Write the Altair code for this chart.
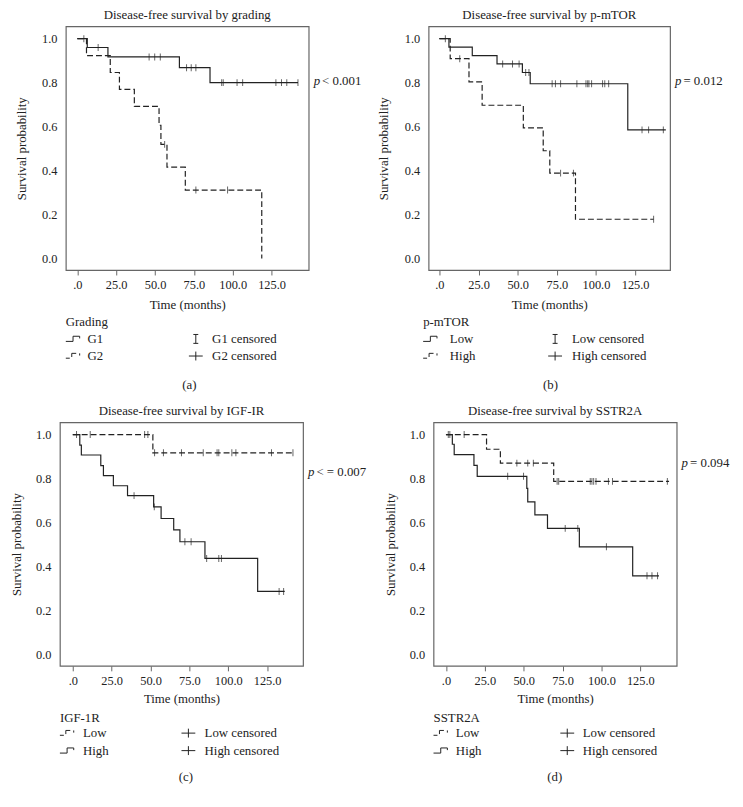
import altair as alt
import pandas as pd

FONT = "Liberation Serif"
INK = "#222222"
FRAME = "#666666"

XTICKS = [0, 25, 50, 75, 100, 125]
YTICKS = [0.0, 0.2, 0.4, 0.6, 0.8, 1.0]
YDOM = [-0.053, 1.056]

# ---------------- data ----------------
# (a) grading
A_G1_T = [0, 6.4, 19.7, 65.7, 85.4]
A_G1_S = [1.0, 0.960, 0.917, 0.868, 0.800]
A_G1_END = 142.0
A_G1_CENS = [4.2, 13.4, 46.2, 49.8, 53.4, 70.3, 73.3, 76.3, 92.9, 93.9,
             102.8, 106.4, 127.8, 131.4, 134.8, 142.0]
A_G2_T = [0, 5.9, 21.2, 27.1, 36.7, 52.6, 53.8, 57.7, 69.5, 118.7]
A_G2_S = [1.0, 0.923, 0.846, 0.769, 0.692, 0.606, 0.519, 0.415, 0.311, 0.0]
A_G2_END = 118.7
A_G2_CENS = [56.2, 76.3, 96.7]

# (b) p-mTOR
B_LOW_T = [0, 6.1, 21.0, 36.8, 53.0, 58.0, 120.3]
B_LOW_S = [1.0, 0.962, 0.923, 0.885, 0.846, 0.795, 0.585]
B_LOW_END = 144.6
B_LOW_CENS = [3.8, 40.4, 46.7, 50.9, 55.1, 57.2, 72.0, 74.1, 77.4, 87.8, 93.6,
              94.7, 95.5, 97.2, 104.2, 105.6, 108.1, 129.4, 133.6, 143.0]
B_HIGH_T = [0, 6.9, 18.9, 27.3, 53.6, 66.3, 70.5, 86.9]
B_HIGH_S = [1.0, 0.909, 0.803, 0.697, 0.594, 0.490, 0.388, 0.178]
B_HIGH_END = 136.8
B_HIGH_CENS = [13.0, 77.4, 85.6, 136.8]

# (c) IGF-1R
C_LOW_T = [0, 51.5]
C_LOW_S = [1.0, 0.917]
C_LOW_END = 142.6
C_LOW_CENS = [2.4, 11.2, 46.2, 48.3, 52.6, 58.3, 69.9, 83.9, 92.8, 93.9, 102.3,
              104.9, 127.8, 141.6]
C_HIGH_T = [0, 4.5, 5.5, 18.0, 19.7, 26.1, 35.2, 52.0, 56.8, 64.9, 68.9, 85.0, 118.9]
C_HIGH_S = [1.0, 0.952, 0.907, 0.859, 0.813, 0.767, 0.722, 0.671, 0.618, 0.566,
            0.512, 0.436, 0.286]
C_HIGH_END = 136.3
C_HIGH_CENS = [39.4, 52.4, 72.1, 76.1, 86.1, 93.9, 95.6, 132.7, 135.6]

# (d) SSTR2A
D_LOW_T = [0, 26.1, 35.0, 69.3]
D_LOW_S = [1.0, 0.933, 0.870, 0.787]
D_LOW_END = 143.5
D_LOW_CENS = [1.5, 11.7, 45.6, 52.6, 56.2, 71.5, 72.5, 92.8, 93.9, 95.0, 96.5,
              104.5, 107.1, 142.4]
D_HIGH_T = [0, 4.1, 5.3, 18.0, 20.1, 52.0, 52.6, 57.2, 65.3, 85.8, 120.1]
D_HIGH_S = [1.0, 0.956, 0.909, 0.860, 0.810, 0.755, 0.694, 0.634, 0.573, 0.489, 0.357]
D_HIGH_END = 137.0
D_HIGH_CENS = [2.5, 39.7, 49.9, 76.7, 84.8, 103.2, 129.3, 132.5, 136.1]

ONE = pd.DataFrame({"k": [0]})


def km_frame(times, surv, end):
    t = list(times)
    s = list(surv)
    if end > t[-1]:
        t.append(end)
        s.append(s[-1])
    return pd.DataFrame({"t": t, "s": s})


def cens_frame(times, surv, cens):
    ys = []
    for c in cens:
        v = surv[0]
        for tt, ss in zip(times, surv):
            if tt <= c:
                v = ss
        ys.append(v)
    return pd.DataFrame({"t": cens, "s": ys})


def rule(x1, y1, x2, y2):
    return alt.Chart(ONE).mark_rule(color=INK, strokeWidth=1).encode(
        x=alt.value(x1), x2=alt.value(x2), y=alt.value(y1), y2=alt.value(y2))


def text(x, y, s, align="left", style="normal", size=13):
    return alt.Chart(ONE).mark_text(
        align=align, baseline="middle", font=FONT, fontSize=size,
        fontStyle=style, color=INK).encode(
        x=alt.value(x), y=alt.value(y), text=alt.value(s))


def icon(x0, yc, dashed):
    if not dashed:
        return [rule(x0, yc + 2.5, x0 + 7.3, yc + 2.5),
                rule(x0 + 7.3, yc + 2.5, x0 + 7.3, yc - 2.7),
                rule(x0 + 7.3, yc - 2.7, x0 + 14, yc - 2.7),
                rule(x0 + 14, yc - 2.7, x0 + 14, yc - 0.5)]
    return [rule(x0, yc + 2.2, x0 + 4, yc + 2.2),
            rule(x0 + 6, yc + 1, x0 + 6, yc - 2.7),
            rule(x0 + 6, yc - 2.7, x0 + 10.5, yc - 2.7),
            rule(x0 + 14, yc - 2.7, x0 + 14, yc - 0.5)]


def symbol(cx, yc, kind):
    if kind == "I":
        return [rule(cx, yc - 4.5, cx, yc + 4.5),
                rule(cx - 2.5, yc - 4.5, cx + 2.5, yc - 4.5),
                rule(cx - 2.5, yc + 4.5, cx + 2.5, yc + 4.5)]
    return [rule(cx - 7, yc, cx + 7, yc), rule(cx, yc - 4.5, cx, yc + 4.5)]


def panel(p):
    W, H = p["w"], p["h"]
    xs = alt.Scale(domain=p["xdom"], nice=False, zero=False)
    ys = alt.Scale(domain=YDOM, nice=False, zero=False)
    xax = alt.Axis(values=XTICKS, title="Time (months)", grid=False, domain=False,
                   tickSize=5, labelPadding=3.5, titlePadding=p["xtp"],
                   labelExpr="datum.value == 0 ? '.0' : format(datum.value, '.1f')")
    yax = alt.Axis(values=YTICKS, format=".1f", title="Survival probability",
                   grid=False, domain=False, ticks=False, tickSize=0,
                   labelPadding=9, titlePadding=p["ytp"])
    layers = []
    for g in p["groups"]:
        t, s, end, cens, dashed = g
        kw = dict(interpolate="step-after", color=INK, strokeWidth=1.2)
        if dashed:
            kw["strokeDash"] = [6, 3]
        layers.append(alt.Chart(km_frame(t, s, end)).mark_line(**kw).encode(
            x=alt.X("t:Q", scale=xs, axis=xax), y=alt.Y("s:Q", scale=ys, axis=yax)))
        layers.append(alt.Chart(cens_frame(t, s, cens)).mark_tick(
            orient="vertical", size=7, thickness=1, color=INK).encode(
            x=alt.X("t:Q", scale=xs, axis=xax), y=alt.Y("s:Q", scale=ys, axis=yax)))
    # p-value
    layers.append(text(W + 5, p["py"], "p", style="italic"))
    layers.append(text(W + 13.5, p["py"], p["ptxt"]))
    # legend
    lx, tx, sx, cx, capx = p["lx"], p["tx"], p["sx"], p["cx"], p["capx"]
    ly = p["ly"]
    layers.append(text(lx, H + ly[0], p["ltitle"]))
    for i, (lab, dashed, kind, clab) in enumerate(p["items"]):
        yc = H + ly[i + 1]
        layers += icon(lx, yc, dashed)
        layers.append(text(tx, yc, lab))
        layers += symbol(sx, yc, kind)
        layers.append(text(cx, yc, clab))
    layers.append(text(capx, H + ly[3], p["cap"], align="center"))
    return alt.layer(*layers).properties(
        width=W, height=H,
        title=alt.Title(p["title"], offset=p["toff"], baseline="alphabetic"))


def spacer(w, h):
    return alt.Chart(ONE).mark_point(opacity=0).encode(
        x=alt.value(0), y=alt.value(0)).properties(
        width=w, height=h, view=alt.ViewBackground(strokeOpacity=0))


H1 = 246.5
H2 = 246.5
ROW1_LY = [53, 69.7, 87, 116.3]
ROW2_LY = [52.4, 68, 85.7, 112]

pa = panel(dict(
    w=245.7, h=H1, xdom=[-7.4, 148.9], xtp=8, ytp=13.5, toff=-6,
    title="Disease-free survival by grading",
    groups=[(A_G1_T, A_G1_S, A_G1_END, A_G1_CENS, False),
            (A_G2_T, A_G2_S, A_G2_END, A_G2_CENS, True)],
    py=55.3, ptxt="< 0.001", ltitle="Grading",
    items=[("G1", False, "I", "G1 censored"), ("G2", True, "+", "G2 censored")],
    lx=0, tx=22, sx=131.5, cx=148, capx=125, ly=ROW1_LY, cap="(a)"))

pb = panel(dict(
    w=244.3, h=H1, xdom=[-6.9, 147.3], xtp=8, ytp=13.5, toff=-6,
    title="Disease-free survival by p-mTOR",
    groups=[(B_LOW_T, B_LOW_S, B_LOW_END, B_LOW_CENS, False),
            (B_HIGH_T, B_HIGH_S, B_HIGH_END, B_HIGH_CENS, True)],
    py=55.3, ptxt="= 0.012", ltitle="p-mTOR",
    items=[("Low", False, "I", "Low censored"), ("High", True, "+", "High censored")],
    lx=-5.5, tx=21.5, sx=128, cx=145, capx=123.3, ly=ROW1_LY, cap="(b)"))

pc = panel(dict(
    w=246, h=H2, xdom=[-8.3, 148.1], xtp=6, ytp=12, toff=-6,
    title="Disease-free survival by IGF-IR",
    groups=[(C_LOW_T, C_LOW_S, C_LOW_END, C_LOW_CENS, True),
            (C_HIGH_T, C_HIGH_S, C_HIGH_END, C_HIGH_CENS, False)],
    py=50.7, ptxt="< = 0.007", ltitle="IGF-1R",
    items=[("Low", True, "+", "Low censored"), ("High", False, "+", "High censored")],
    lx=0, tx=23.4, sx=130, cx=146.4, capx=127.4, ly=ROW2_LY, cap="(c)"))

pd_ = panel(dict(
    w=246, h=H2, xdom=[-8.0, 148.4], xtp=6, ytp=12, toff=-6,
    title="Disease-free survival by SSTR2A",
    groups=[(D_LOW_T, D_LOW_S, D_LOW_END, D_LOW_CENS, True),
            (D_HIGH_T, D_HIGH_S, D_HIGH_END, D_HIGH_CENS, False)],
    py=41.3, ptxt="= 0.094", ltitle="SSTR2A",
    items=[("Low", True, "+", "Low censored"), ("High", False, "+", "High censored")],
    lx=0, tx=22.6, sx=135.3, cx=151, capx=122.6, ly=ROW2_LY, cap="(d)"))

row1 = alt.hconcat(spacer(5.7, H1), pa, spacer(121, H1), pb, spacing=0, bounds="flush")
row2 = alt.hconcat(pc, spacer(131.5, H2), pd_, spacing=0, bounds="flush")

chart = alt.vconcat(row1, row2, spacing=154 + H1, bounds="flush").properties(
    padding={"left": 1.5, "top": -4, "right": 5, "bottom": 5},
    background="white",
).configure_view(
    stroke=FRAME, strokeWidth=1.2
).configure_axis(
    labelFont=FONT, labelFontSize=12.5, labelColor=INK,
    titleFont=FONT, titleFontSize=13, titleFontWeight="normal", titleColor=INK,
    tickColor=FRAME,
).configure_title(
    font=FONT, fontSize=13, fontWeight="normal", color=INK, anchor="middle",
)

chart.save("out.html", embed_options={"renderer": "svg", "actions": False})
